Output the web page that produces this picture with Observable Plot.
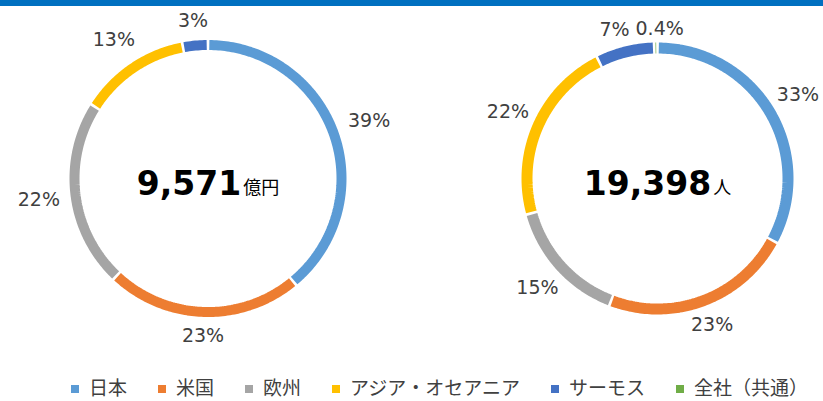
<!DOCTYPE html>
<html><head><meta charset="utf-8">
<script src="https://cdn.jsdelivr.net/npm/d3@7"></script>
<script src="https://cdn.jsdelivr.net/npm/@observablehq/plot@0.6"></script>
<style>
body{margin:0;background:#fff;}
#wrap{position:relative;width:823px;height:401px;overflow:hidden;}
#bar{position:absolute;left:0;top:0;width:823px;height:6px;background:#0070C0;}
#chart{position:absolute;left:0;top:0;}
#legend{position:absolute;left:71px;top:370px;width:760px;}
#legend div{font-size:19px !important;font-family:"Noto Sans CJK JP",sans-serif !important;color:#404040 !important;margin:0 !important;flex-wrap:nowrap !important;}
#legend span{margin-right:31px !important;font-size:19px !important;white-space:nowrap;}
#legend span > svg{margin-right:10px !important;position:relative;top:2px;}
</style></head><body>
<div id="wrap"><div id="chart"></div><div id="bar"></div><div id="legend"></div></div>
<script>
// ---- data ----
const regions = ["日本","米国","欧州","アジア・オセアニア","サーモス","全社（共通）"];
const colors  = ["#5B9BD5","#ED7D31","#A5A5A5","#FFC000","#4472C4","#70AD47"];
const salesShare = [39, 23, 22, 13, 3, 0];      // 売上収益 構成比 (%)
const staffShare = [33, 23, 15, 22, 7, 0.4];    // 従業員数 構成比 (%)
const totals = ["9,571", "19,398"];
const units  = ["億円", "人"];

// ---- layout ----
const W = 823, H = 372;
const layout = [
  {cx: 207.5, cy: 178, r: 138.5, ring: 10, pad: 10},
  {cx: 657,   cy: 178, r: 136,   ring: 11, pad: 5}
];
const LABEL_FS = 19, NUM_FS = 33, UNIT_FS = 18, GAP = 2.6;

const ctx = document.createElement("canvas").getContext("2d");
function measure(t, font){ ctx.font = font; return ctx.measureText(t).width; }

const series = [salesShare, staffShare];
const arcs = [[], []], labels = [], nums = [], unitTexts = [];
series.forEach((vals, di) => {
  const L = layout[di];
  const sum = d3.sum(vals);
  const rm = L.r - L.ring / 2;
  let acc = 0;
  const own = [];
  vals.forEach((v, i) => {
    const a0 = acc / sum * 2 * Math.PI, a1 = (acc + v) / sum * 2 * Math.PI;
    acc += v;
    if (v <= 0) return;
    const g = GAP / 2 / rm;
    let s = a0 + g, e = a1 - g;
    if (e <= s) { const m = (a0 + a1) / 2; s = m - 0.0025; e = m + 0.0025; }
    const n = Math.max(2, Math.ceil((e - s) / (Math.PI / 180)));
    for (let k = 0; k <= n; k++) {
      const a = s + (e - s) * k / n;
      arcs[di].push({seg: i, region: regions[i], x: L.cx + rm * Math.sin(a), y: L.cy - rm * Math.cos(a)});
    }
    const text = `${v}%`;
    const m = (a0 + a1) / 2;
    const w = measure(text, `${LABEL_FS}px "DejaVu Sans"`);
    const hw = w / 2, hh = LABEL_FS * 0.45;
    const dist = L.r + L.pad + hw * Math.abs(Math.sin(m)) + hh * Math.abs(Math.cos(m));
    own.push({text, w, x: L.cx + dist * Math.sin(m), y: L.cy - dist * Math.cos(m)});
  });
  // simple collision resolution between neighbouring labels (horizontal push)
  for (let k = 1; k < own.length; k++) {
    const a = own[k - 1], b = own[k];
    const vOverlap = Math.abs(a.y - b.y) < LABEL_FS;
    const need = (a.w + b.w) / 2 + 6 - Math.abs(a.x - b.x);
    if (vOverlap && need > 0) {
      const dir = a.x <= b.x ? 1 : -1;
      a.x -= dir * need * 0.6; b.x += dir * need * 0.4;
    }
  }
  labels.push(...own);
  const wn = measure(totals[di], `bold ${NUM_FS}px "DejaVu Sans"`);
  const wu = measure(units[di], `${UNIT_FS}px "Noto Sans CJK JP"`);
  const start = L.cx - (wn + 2 + wu) / 2;
  nums.push({text: totals[di], x: start + wn, y: L.cy + 16});
  unitTexts.push({text: units[di], x: start + wn + 2, y: L.cy + 15});
});

const chart = Plot.plot({
  width: W, height: H, margin: 0,
  x: {type: "linear", domain: [0, W], range: [0, W], axis: null},
  y: {type: "linear", domain: [0, H], range: [0, H], axis: null},
  color: {domain: regions, range: colors},
  style: {background: "transparent"},
  marks: [
    Plot.line(arcs[0], {x: "x", y: "y", z: "seg", stroke: "region", strokeWidth: layout[0].ring, strokeLinecap: "butt", strokeLinejoin: "miter"}),
    Plot.line(arcs[1], {x: "x", y: "y", z: "seg", stroke: "region", strokeWidth: layout[1].ring, strokeLinecap: "butt", strokeLinejoin: "miter"}),
    Plot.text(labels, {x: "x", y: "y", text: "text", fontSize: LABEL_FS, fontFamily: "DejaVu Sans", fill: "#404040", textAnchor: "middle"}),
    Plot.text(nums, {x: "x", y: "y", text: "text", fontSize: NUM_FS, fontWeight: "bold", fontFamily: "DejaVu Sans", fill: "#000", textAnchor: "end", lineAnchor: "bottom"}),
    Plot.text(unitTexts, {x: "x", y: "y", text: "text", fontSize: UNIT_FS, fontFamily: "Noto Sans CJK JP", fill: "#000", textAnchor: "start", lineAnchor: "bottom"})
  ]
});
document.getElementById("chart").append(chart);

const legend = Plot.legend({
  legend: "swatches",
  color: {type: "ordinal", domain: regions, range: colors},
  swatchSize: 8,
  style: {fontSize: "19px", fontFamily: "'Noto Sans CJK JP', sans-serif", color: "#404040"}
});
document.getElementById("legend").append(legend);
</script>
</body></html>
